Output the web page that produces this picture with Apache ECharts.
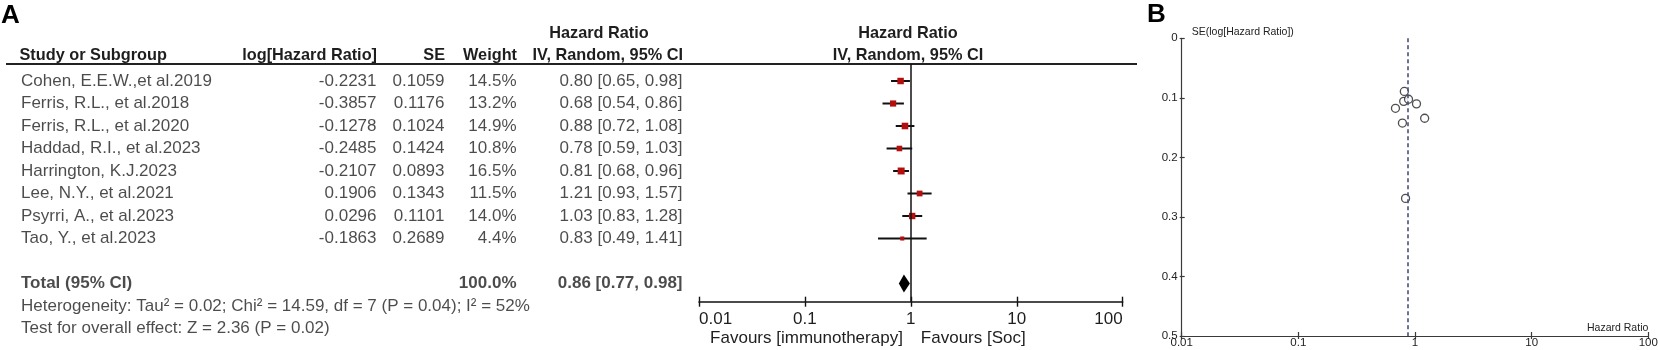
<!DOCTYPE html>
<html>
<head>
<meta charset="utf-8">
<title>Hazard ratio forest and funnel plot</title>
<script src="https://cdn.jsdelivr.net/npm/echarts@6/dist/echarts.min.js"></script>
<style>
  html, body { margin: 0; padding: 0; background: #fff; }
  #chart { width: 1658px; height: 350px; }
</style>
</head>
<body>
<div id="chart"></div>
<script>
// Datos del meta-análisis
const studies = [
  "Cohen, E.E.W.,et al.2019",
  "Ferris, R.L., et al.2018",
  "Ferris, R.L., et al.2020",
  "Haddad, R.I., et al.2023",
  "Harrington, K.J.2023",
  "Lee, N.Y., et al.2021",
  "Psyrri, A., et al.2023",
  "Tao, Y., et al.2023",
];
const logHR = [-0.2231, -0.3857, -0.1278, -0.2485, -0.2107, 0.1906, 0.0296, -0.1863];
const se = [0.1059, 0.1176, 0.1024, 0.1424, 0.0893, 0.1343, 0.1101, 0.2689];
const weights = [14.5, 13.2, 14.9, 10.8, 16.5, 11.5, 14.0, 4.4];
const hr = [0.80, 0.68, 0.88, 0.78, 0.81, 1.21, 1.03, 0.83];
const ciLow = [0.65, 0.54, 0.72, 0.59, 0.68, 0.93, 0.83, 0.49];
const ciHigh = [0.98, 0.86, 1.08, 1.03, 0.96, 1.57, 1.28, 1.41];
const totalHR = 0.86;
const totalLow = 0.77;
const totalHigh = 0.98;
const totalWeight = 100.0;
const heterogeneity = "Heterogeneity: Tau\u00b2 = 0.02; Chi\u00b2 = 14.59, df = 7 (P = 0.04); I\u00b2 = 52%";
const overallTest = "Test for overall effect: Z = 2.36 (P = 0.02)";
const hrTicks = [0.01, 0.1, 1, 10, 100];
const seTicks = [0, 0.1, 0.2, 0.3, 0.4, 0.5];

// Layout
const FONT = "'Liberation Sans', Arial, sans-serif";
const TXT = "#1e1e1e";
const ROW0 = 81;      // y del primer estudio
const ROW_H = 22.5;   // alto de fila
const FOREST_TOP = 64;
const FOREST_AXIS = 301.7;
const H = 350;
const TOTAL_ROW = 9, HET_ROW = 10, TEST_ROW = 11;
const COL = { study: 20.5, log: 377, se: 445, weight: 517, ci: 683 };

function tickLabel(v) {
  const t = hrTicks.find((x) => Math.abs(Math.log10(x) - Math.log10(v)) < 1e-6);
  return t === undefined ? "" : String(t);
}

// columnas de texto de la tabla
function textSeries(name, align, items) {
  return {
    name: name,
    type: "scatter",
    xAxisIndex: 2,
    yAxisIndex: 1,
    symbolSize: 1,
    silent: true,
    itemStyle: { color: "rgba(0,0,0,0)" },
    label: {
      show: true,
      position: align === "right" ? "left" : "right",
      distance: 0,
      fontFamily: FONT,
      fontSize: 17,
      color: TXT,
      formatter: (p) => p.value[2],
    },
    data: items,
  };
}

const bold = { fontWeight: "bold" };
const studyCol = studies.map((s, i) => [COL.study, i, s]);
studyCol.push({ value: [COL.study, TOTAL_ROW, "Total (95% CI)"], label: bold });
studyCol.push([COL.study, HET_ROW, heterogeneity]);
studyCol.push([COL.study, TEST_ROW, overallTest]);
const logCol = logHR.map((v, i) => [COL.log, i, v.toFixed(4)]);
const seCol = se.map((v, i) => [COL.se, i, v.toFixed(4)]);
const weightCol = weights.map((v, i) => [COL.weight, i, v.toFixed(1) + "%"]);
weightCol.push({ value: [COL.weight, TOTAL_ROW, totalWeight.toFixed(1) + "%"], label: bold });
const fmtCI = (m, l, u) => m.toFixed(2) + " [" + l.toFixed(2) + ", " + u.toFixed(2) + "]";
const ciCol = hr.map((v, i) => [COL.ci, i, fmtCI(v, ciLow[i], ciHigh[i])]);
ciCol.push({ value: [COL.ci, TOTAL_ROW, fmtCI(totalHR, totalLow, totalHigh)], label: bold });

const chart = echarts.init(document.getElementById("chart"), null, { renderer: "canvas" });

const headerStyle = { fontFamily: FONT, fontSize: 16.3, fontWeight: "bold", fill: TXT, verticalAlign: "middle" };
function head(text, x, y, align) {
  return { type: "text", x: x, y: y, silent: true, style: Object.assign({ text: text, align: align }, headerStyle) };
}

const FUNNEL_AXIS = "#3a3a3a";
const FUNNEL_TXT = "#222";

const option = {
  animation: false,
  backgroundColor: "#fff",
  grid: [
    { left: 699, right: 1658 - 1122.7, top: FOREST_TOP, bottom: H - FOREST_AXIS, outerBoundsMode: "none" },
    { left: 0, right: 0, top: 0, bottom: 0, outerBoundsMode: "none" },
    { left: 1181.7, right: 1658 - 1648.3, top: 38.3, bottom: H - 336, outerBoundsMode: "none" },
  ],
  xAxis: [
    {
      gridIndex: 0, type: "log", logBase: 10, min: 0.01, max: 100, splitNumber: 4, position: "bottom",
      axisLine: { onZero: false, lineStyle: { color: "#111", width: 1.6 } },
      axisTick: { length: 5, lineStyle: { color: "#111", width: 1.4 } },
      axisLabel: {
        fontFamily: FONT, fontSize: 17, color: TXT, margin: 9,
        alignMinLabel: "left", alignMaxLabel: "right", formatter: tickLabel,
      },
      splitLine: { show: false },
    },
    {
      gridIndex: 0, type: "log", logBase: 10, min: 0.01, max: 100, splitNumber: 4, position: "bottom",
      axisLine: { show: false, onZero: false },
      axisTick: { inside: true, length: 5, lineStyle: { color: "#111", width: 1.4 } },
      axisLabel: { show: false }, splitLine: { show: false },
    },
    { gridIndex: 1, type: "value", min: 0, max: 1658, show: false },
    {
      gridIndex: 2, type: "log", logBase: 10, min: 0.01, max: 100, splitNumber: 4, position: "bottom",
      name: "Hazard Ratio", nameLocation: "end", nameGap: 0,
      nameTextStyle: { fontFamily: FONT, fontSize: 10.5, color: FUNNEL_TXT, align: "right", verticalAlign: "bottom", padding: [0, 0, 2, 0] },
      axisLine: { onZero: false, lineStyle: { color: FUNNEL_AXIS, width: 1.2 } },
      axisTick: { length: 3, lineStyle: { color: FUNNEL_AXIS, width: 1.2 } },
      axisLabel: { fontFamily: FONT, fontSize: 11.5, color: FUNNEL_TXT, margin: 1, formatter: tickLabel },
      splitLine: { show: false },
    },
    {
      gridIndex: 2, type: "log", logBase: 10, min: 0.01, max: 100, splitNumber: 4, position: "bottom",
      axisLine: { show: false, onZero: false },
      axisTick: { inside: true, length: 4, lineStyle: { color: FUNNEL_AXIS, width: 1.2 } },
      axisLabel: { show: false }, splitLine: { show: false },
    },
  ],
  yAxis: [
    {
      gridIndex: 0, type: "value", inverse: true, show: false,
      min: (FOREST_TOP - ROW0) / ROW_H, max: (FOREST_AXIS - ROW0) / ROW_H,
    },
    { gridIndex: 1, type: "value", inverse: true, show: false, min: -ROW0 / ROW_H, max: (H - ROW0) / ROW_H },
    {
      gridIndex: 2, type: "value", inverse: true, position: "left",
      min: seTicks[0], max: seTicks[seTicks.length - 1], interval: 0.1,
      name: "SE(log[Hazard Ratio])", nameLocation: "start", nameGap: 6,
      nameTextStyle: { fontFamily: FONT, fontSize: 10.5, color: FUNNEL_TXT, align: "left", verticalAlign: "middle", padding: [0, 0, 0, 10] },
      axisLine: { show: true, onZero: false, lineStyle: { color: FUNNEL_AXIS, width: 1.2 } },
      axisTick: { show: true, length: 2, lineStyle: { color: FUNNEL_AXIS, width: 1.2 } },
      axisLabel: {
        fontFamily: FONT, fontSize: 11.5, color: FUNNEL_TXT, margin: 4,
        formatter: (v) => String(seTicks.find((t) => Math.abs(t - v) < 1e-6) ?? v),
      },
      splitLine: { show: false },
    },
    {
      gridIndex: 2, type: "value", inverse: true, min: 0, max: 0.5, interval: 0.1, position: "left",
      axisLine: { show: false, onZero: false },
      axisTick: { show: true, inside: true, length: 3, lineStyle: { color: FUNNEL_AXIS, width: 1.2 } },
      axisLabel: { show: false }, splitLine: { show: false },
    },
  ],
  series: [
    // línea de no efecto (HR = 1)
    {
      name: "ref", type: "line", xAxisIndex: 0, yAxisIndex: 0, data: [],
      markLine: {
        silent: true, symbol: "none", label: { show: false },
        lineStyle: { color: "#111", width: 1.5, type: "solid" },
        data: [{ xAxis: 1 }],
      },
    },
    // intervalos y cuadrados de cada estudio
    {
      name: "studies", type: "custom", xAxisIndex: 0, yAxisIndex: 0, silent: true,
      encode: { x: [0, 1, 2], y: 3 },
      data: hr.map((v, i) => [v, ciLow[i], ciHigh[i], i, weights[i]]),
      renderItem: function (params, api) {
        const y = api.value(3);
        const p = api.coord([api.value(0), y]);
        const a = api.coord([api.value(1), y]);
        const b = api.coord([api.value(2), y]);
        const s = 3 + api.value(4) * 0.24;
        return {
          type: "group",
          children: [
            { type: "line", shape: { x1: a[0], y1: a[1], x2: b[0], y2: b[1] }, style: { stroke: "#111", lineWidth: 2 } },
            { type: "rect", shape: { x: p[0] - s / 2, y: p[1] - s / 2, width: s, height: s }, style: { fill: "#b40f0f" } },
          ],
        };
      },
    },
    // diamante del total
    {
      name: "total", type: "custom", xAxisIndex: 0, yAxisIndex: 0, silent: true,
      encode: { x: [0, 1, 2], y: 3 },
      data: [[totalHR, totalLow, totalHigh, TOTAL_ROW]],
      renderItem: function (params, api) {
        const y = api.value(3);
        const c = api.coord([api.value(0), y]);
        const a = api.coord([api.value(1), y]);
        const b = api.coord([api.value(2), y]);
        const h = 9;
        return {
          type: "polygon",
          shape: { points: [[a[0], c[1]], [c[0], c[1] - h], [b[0], c[1]], [c[0], c[1] + h]] },
          style: { fill: "#000" },
        };
      },
    },
    textSeries("study", "left", studyCol),
    textSeries("log", "right", logCol),
    textSeries("se", "right", seCol),
    textSeries("weight", "right", weightCol),
    textSeries("ci", "right", ciCol),
    // funnel plot
    {
      name: "funnel", type: "scatter", xAxisIndex: 3, yAxisIndex: 2,
      symbol: "circle", symbolSize: 8,
      itemStyle: { color: "#fff", borderColor: "#222", borderWidth: 1.3 },
      data: hr.map((v, i) => [v, se[i]]),
      markLine: {
        silent: true, symbol: "none", label: { show: false },
        lineStyle: { color: "#4a4f7c", width: 1.6, type: [4, 3] },
        data: [{ xAxis: totalHR }],
      },
      z: 3,
    },
  ],
  graphic: [
    { type: "text", x: 1, y: 16, silent: true, style: { text: "A", fontFamily: FONT, fontSize: 26, fontWeight: "bold", fill: "#000", verticalAlign: "middle" } },
    { type: "text", x: 1147, y: 15, silent: true, style: { text: "B", fontFamily: FONT, fontSize: 26, fontWeight: "bold", fill: "#000", verticalAlign: "middle" } },
    head("Hazard Ratio", 599, 33.5, "center"),
    head("Study or Subgroup", 19.5, 56, "left"),
    head("log[Hazard Ratio]", COL.log, 56, "right"),
    head("SE", COL.se, 56, "right"),
    head("Weight", COL.weight, 56, "right"),
    head("IV, Random, 95% CI", COL.ci, 56, "right"),
    head("Hazard Ratio", 908, 33.5, "center"),
    head("IV, Random, 95% CI", 908, 56, "center"),
    { type: "line", silent: true, shape: { x1: 6, y1: 64, x2: 1137, y2: 64 }, style: { stroke: "#222", lineWidth: 2 } },
  ],
};

chart.setOption(option);

// textos "Favours" a ambos lados de HR = 1
const x1 = chart.convertToPixel({ xAxisIndex: 0 }, 1);
chart.setOption({
  graphic: [
    { id: "favL", type: "text", x: x1 - 8, y: 338.5, silent: true, style: { text: "Favours [immunotherapy]", align: "right", verticalAlign: "middle", fontFamily: FONT, fontSize: 17, fill: TXT } },
    { id: "favR", type: "text", x: x1 + 10, y: 338.5, silent: true, style: { text: "Favours [Soc]", align: "left", verticalAlign: "middle", fontFamily: FONT, fontSize: 17, fill: TXT } },
  ],
});

window.addEventListener("resize", function () {
  chart.resize();
});
</script>
</body>
</html>
